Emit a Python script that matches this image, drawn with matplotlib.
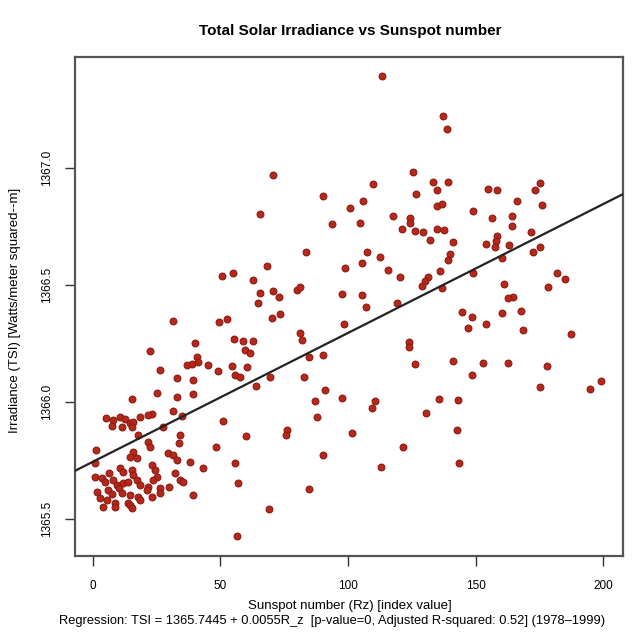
import matplotlib
matplotlib.use("Agg")
import matplotlib.pyplot as plt
import numpy as np

plt.rcParams['font.family'] = ['Liberation Sans', 'DejaVu Sans']

title = "Total Solar Irradiance vs Sunspot number"
xlabel = "Sunspot number (Rz) [index value]"
ylabel = "Irradiance (TSI) [Watts/meter squared--m]"
caption = "Regression: TSI = 1365.7445 + 0.0055R_z  [p-value=0, Adjusted R-squared: 0.52] (1978\u20131999)"

intercept = 1365.7445
slope = 0.0055

x_ticks = [0, 50, 100, 150, 200]
y_ticks = [1365.5, 1366.0, 1366.5, 1367.0]
y_tick_labels = ["1365.5", "1366.0", "1366.5", "1367.0"]

# High-activity / upper part of the cloud
sunspot_high = [113.4, 137.3, 138.9, 70.7, 125.5, 90.3, 100.9, 109.9, 133.4, 139.3,
                135.0, 126.7, 106.0, 65.6, 93.8, 104.8, 154.9, 158.5, 175.3, 173.4,
                166.3, 176.1, 135.0, 136.9, 149.1, 117.7, 124.4, 124.4, 121.2, 126.3,
                129.5, 135.0, 137.7, 132.2, 141.2, 156.5, 164.3, 164.3, 171.8, 158.5,
                158.1, 154.2, 157.7, 163.2, 175.3, 172.6, 160.4, 83.6, 68.3, 98.9,
                50.7, 55.0, 62.9, 65.6, 70.7, 73.0, 80.1, 81.3, 97.7, 107.5,
                112.6, 105.6, 140.0, 139.3, 136.1, 115.8, 120.5, 131.4, 130.3, 129.1,
                149.1, 182.0, 185.1, 178.4, 161.2, 136.9, 105.6, 164.7, 162.8, 64.8,
                107.1, 119.3, 144.7, 148.7, 160.4, 167.9, 147.1, 154.2, 168.7, 187.5,
                98.5, 124.0, 124.0, 126.3, 141.2, 153.0, 162.8, 148.7, 178.1, 175.3,
                194.9, 199.2, 97.7, 110.7, 109.5, 135.7, 143.2, 130.6, 101.6, 142.8,
                121.6, 113.0, 143.6]
tsi_high = [1367.393, 1367.222, 1367.167, 1366.970, 1366.983, 1366.880, 1366.829, 1366.932, 1366.940, 1366.940,
            1366.906, 1366.889, 1366.859, 1366.803, 1366.761, 1366.765, 1366.910, 1366.906, 1366.936, 1366.906,
            1366.859, 1366.842, 1366.838, 1366.846, 1366.816, 1366.795, 1366.786, 1366.765, 1366.739, 1366.731,
            1366.726, 1366.739, 1366.735, 1366.692, 1366.684, 1366.786, 1366.795, 1366.752, 1366.726, 1366.709,
            1366.688, 1366.675, 1366.662, 1366.671, 1366.662, 1366.641, 1366.615, 1366.641, 1366.581, 1366.573,
            1366.538, 1366.551, 1366.521, 1366.466, 1366.474, 1366.449, 1366.479, 1366.491, 1366.462, 1366.641,
            1366.620, 1366.594, 1366.632, 1366.607, 1366.560, 1366.564, 1366.534, 1366.534, 1366.517, 1366.496,
            1366.551, 1366.551, 1366.526, 1366.491, 1366.504, 1366.487, 1366.457, 1366.449, 1366.444, 1366.423,
            1366.406, 1366.423, 1366.385, 1366.363, 1366.380, 1366.389, 1366.316, 1366.333, 1366.308, 1366.291,
            1366.333, 1366.256, 1366.235, 1366.162, 1366.175, 1366.167, 1366.167, 1366.115, 1366.154, 1366.064,
            1366.056, 1366.090, 1366.017, 1366.004, 1365.974, 1366.013, 1366.009, 1365.953, 1365.868, 1365.880,
            1365.808, 1365.722, 1365.739]

# Middle part
sunspot_mid = [31.5, 49.5, 52.7, 70.3, 73.4, 40.1, 55.4, 58.9, 62.9, 81.3,
               82.1, 59.7, 61.7, 22.5, 26.4, 37.0, 38.9, 40.9, 41.3, 45.2,
               49.1, 54.6, 55.8, 57.8, 60.5, 69.5, 33.1, 39.3, 64.0, 82.8,
               84.8, 90.3, 15.4, 25.2, 33.1, 39.3, 91.1, 87.1, 87.9, 31.5,
               35.0, 23.3, 51.1, 76.2, 75.8, 60.1, 90.3, 48.4, 55.8, 57.0,
               84.8, 69.1, 56.6, 39.3, 43.3, 38.2]
tsi_mid = [1366.346, 1366.342, 1366.355, 1366.359, 1366.376, 1366.252, 1366.269, 1366.261, 1366.261, 1366.295,
           1366.265, 1366.222, 1366.209, 1366.218, 1366.137, 1366.158, 1366.162, 1366.192, 1366.171, 1366.158,
           1366.132, 1366.154, 1366.115, 1366.107, 1366.150, 1366.107, 1366.103, 1366.094, 1366.068, 1366.107,
           1366.192, 1366.201, 1366.013, 1366.038, 1366.021, 1366.034, 1366.051, 1366.004, 1365.936, 1365.962,
           1365.940, 1365.949, 1365.919, 1365.880, 1365.859, 1365.855, 1365.774, 1365.808, 1365.739, 1365.654,
           1365.628, 1365.543, 1365.427, 1365.603, 1365.718, 1365.744]

# Low-activity dense cluster
sunspot_low = [5.3, 8.0, 10.7, 12.7, 14.7, 15.8, 18.6, 21.7, 7.6, 11.5,
               15.4, 17.8, 21.7, 22.5, 27.6, 34.2, 33.9, 1.3, 15.8, 14.7,
               17.4, 0.9, 29.5, 31.5, 33.1, 10.7, 11.9, 15.4, 15.8, 23.3,
               24.5, 25.2, 32.3, 34.2, 6.4, 0.9, 3.7, 4.9, 8.0, 9.6,
               10.3, 11.9, 13.9, 17.4, 18.6, 23.7, 21.7, 26.4, 29.9, 35.4,
               1.7, 6.0, 7.6, 11.5, 14.7, 17.8, 21.3, 23.3, 26.4, 2.9,
               5.6, 8.8, 13.9, 18.6, 4.1, 8.8, 14.7, 15.4]
tsi_low = [1365.932, 1365.923, 1365.936, 1365.927, 1365.910, 1365.915, 1365.936, 1365.944, 1365.897, 1365.893,
           1365.893, 1365.859, 1365.829, 1365.808, 1365.893, 1365.859, 1365.825, 1365.795, 1365.786, 1365.765,
           1365.761, 1365.739, 1365.782, 1365.774, 1365.752, 1365.718, 1365.701, 1365.709, 1365.688, 1365.731,
           1365.709, 1365.679, 1365.697, 1365.667, 1365.697, 1365.679, 1365.675, 1365.658, 1365.667, 1365.645,
           1365.632, 1365.654, 1365.658, 1365.667, 1365.645, 1365.667, 1365.637, 1365.632, 1365.637, 1365.658,
           1365.615, 1365.624, 1365.607, 1365.611, 1365.603, 1365.594, 1365.624, 1365.594, 1365.611, 1365.590,
           1365.581, 1365.568, 1365.568, 1365.581, 1365.551, 1365.551, 1365.560, 1365.547]

sunspot = np.array(sunspot_high + sunspot_mid + sunspot_low)
tsi = np.array(tsi_high + tsi_mid + tsi_low)

fig = plt.figure(figsize=(6.37, 6.37), dpi=100)
ax = fig.add_axes([0.118, 0.127, 0.860, 0.784])

ax.scatter(sunspot, tsi, s=24, facecolor='#b8281a', edgecolor='#8a1c12',
           linewidths=0.8, zorder=3)

xlim = (-6.9, 207.8)
ylim = (1365.342, 1367.474)
ax.set_xlim(*xlim)
ax.set_ylim(*ylim)

xx = np.array(xlim)
ax.plot(xx, intercept + slope * xx, color='#222222', lw=1.6, zorder=4)

ax.set_xticks(x_ticks)
ax.set_xticklabels([str(t) for t in x_ticks], fontsize=8.5)
ax.set_yticks(y_ticks)
ax.set_yticklabels(y_tick_labels, fontsize=8.5, rotation=90, va='center')
ax.tick_params(axis='x', direction='out', length=7, width=1, color='#333333', pad=10)
ax.tick_params(axis='y', direction='out', length=7, width=1, color='#333333', pad=9)

for sp in ax.spines.values():
    sp.set_color('#555555')
    sp.set_linewidth(1.6)

fig.text(0.55, 0.952, title, ha='center', va='center', fontsize=11, fontweight='bold')
fig.text(0.024, 0.513, ylabel, ha='center', va='center', fontsize=9.5, rotation=90)
fig.text(0.55, 0.049, xlabel, ha='center', va='center', fontsize=9.5)
fig.text(0.522, 0.025, caption, ha='center', va='center', fontsize=9.3)

fig.savefig("out.png", dpi=100)
